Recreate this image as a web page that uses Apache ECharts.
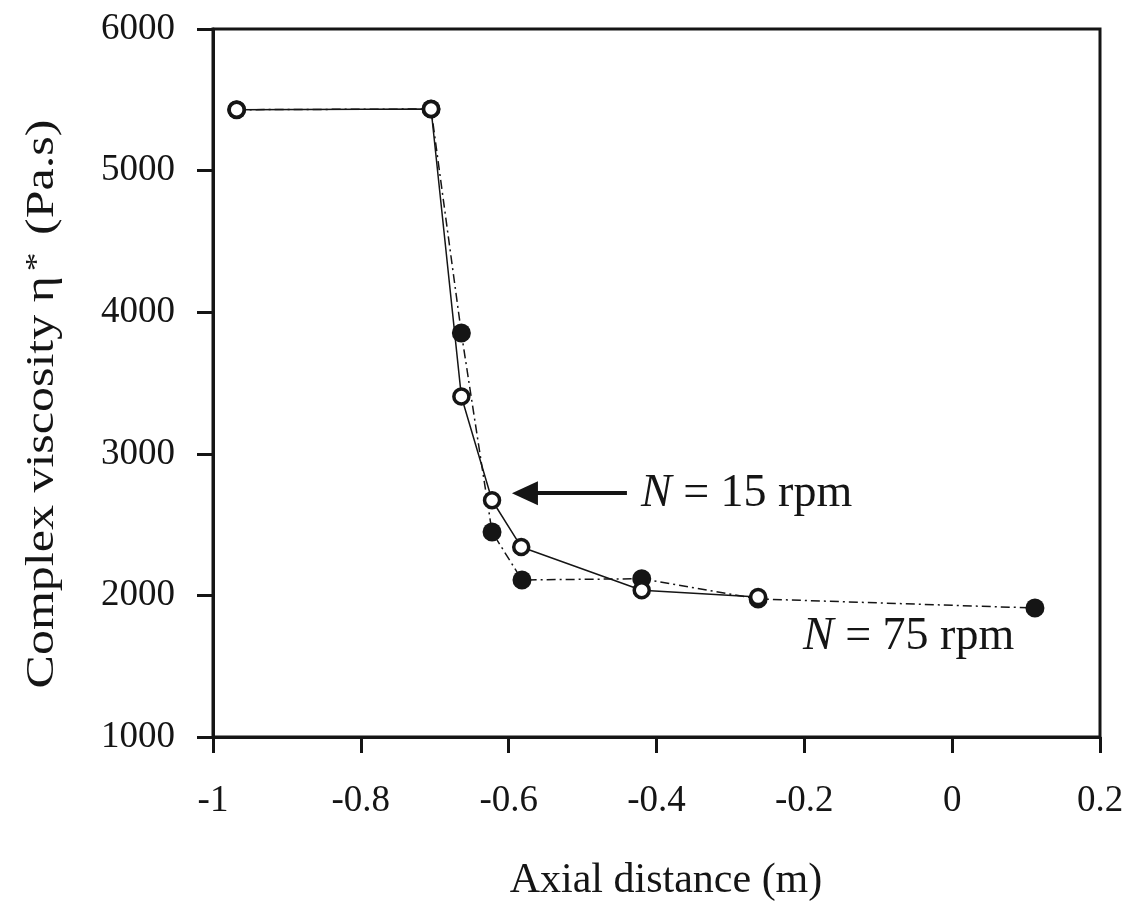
<!DOCTYPE html>
<html>
<head>
<meta charset="utf-8">
<title>Complex viscosity vs axial distance</title>
<script src="https://cdn.jsdelivr.net/npm/echarts@6/dist/echarts.min.js"></script>
<style>
  html, body { margin: 0; padding: 0; background: #ffffff; }
  #chart { width: 1140px; height: 903px; }
</style>
</head>
<body>
<div id="chart"></div>
<script>
// Axial position (m) and complex viscosity (Pa.s) along the extruder
const axial15 = [-0.968, -0.705, -0.664, -0.6225, -0.583, -0.42, -0.2625];
const visc15  = [5430, 5435, 3405, 2672, 2342, 2036, 1988];

const axial75 = [-0.968, -0.705, -0.664, -0.6225, -0.582, -0.42, -0.2625, 0.112];
const visc75  = [5430, 5435, 3853, 2448, 2109, 2118, 1975, 1911];

const xTicks = { min: -1, max: 0.2, step: 0.2 };
const yTicks = { min: 1000, max: 6000, step: 1000 };

const label15 = ['N', ' = 15 rpm'];
const label75 = ['N', ' = 75 rpm'];

const FONT = '"Liberation Serif", "Times New Roman", serif';
const INK = '#151515';

const pair = (xs, ys) => xs.map((x, i) => [x, ys[i]]);

const chart = echarts.init(document.getElementById('chart'), null, { renderer: 'canvas' });

chart.setOption({
  backgroundColor: '#ffffff',
  animation: false,
  grid: {
    left: 213, top: 29, width: 887, height: 708,
    show: true, borderColor: INK, borderWidth: 3, backgroundColor: 'transparent'
  },
  xAxis: {
    type: 'value',
    min: xTicks.min, max: xTicks.max, interval: xTicks.step,
    axisLine: { onZero: false, lineStyle: { color: INK, width: 3 } },
    axisTick: { show: true, inside: false, length: 16, lineStyle: { color: INK, width: 3 } },
    axisLabel: {
      margin: 46, color: INK, fontFamily: FONT, fontSize: 37,
      formatter: v => String(+v.toFixed(1))
    },
    splitLine: { show: false }
  },
  yAxis: {
    type: 'value',
    min: yTicks.min, max: yTicks.max, interval: yTicks.step,
    axisLine: { onZero: false, lineStyle: { color: INK, width: 3 } },
    axisTick: { show: true, inside: false, length: 16, lineStyle: { color: INK, width: 3 } },
    axisLabel: {
      margin: 38, color: INK, fontFamily: FONT, fontSize: 37,
      formatter: v => String(Math.round(v))
    },
    splitLine: { show: false }
  },
  series: [
    {
      name: 'N = 75 rpm',
      type: 'line',
      data: pair(axial75, visc75),
      symbol: 'circle',
      symbolSize: 19,
      itemStyle: { color: INK, borderColor: INK, borderWidth: 0 },
      lineStyle: { color: INK, width: 1.5, type: [9, 4, 2, 4] },
      z: 2
    },
    {
      name: 'N = 15 rpm',
      type: 'line',
      data: pair(axial15, visc15),
      symbol: 'circle',
      symbolSize: 15,
      itemStyle: { color: '#ffffff', borderColor: INK, borderWidth: 3.5 },
      lineStyle: { color: INK, width: 1.5 },
      z: 3,
      // arrow pointing at the 15 rpm curve
      markLine: {
        silent: true,
        symbol: ['none', 'triangle'],
        symbolSize: [24, 26],
        label: { show: false },
        lineStyle: { color: INK, width: 4, type: 'solid' },
        data: [[
          { coord: [-0.44, 2722] },
          { coord: [-0.578, 2722] }
        ]]
      }
    }
  ],
  graphic: [
    {
      type: 'text', x: 641, y: 494,
      style: {
        text: '{i|' + label15[0] + '}{r|' + label15[1] + '}',
        textVerticalAlign: 'middle',
        rich: {
          i: { fontFamily: FONT, fontSize: 46, fontStyle: 'italic', fill: INK },
          r: { fontFamily: FONT, fontSize: 46, fill: INK }
        }
      }
    },
    {
      type: 'text', x: 803, y: 637,
      style: {
        text: '{i|' + label75[0] + '}{r|' + label75[1] + '}',
        textVerticalAlign: 'middle',
        rich: {
          i: { fontFamily: FONT, fontSize: 46, fontStyle: 'italic', fill: INK },
          r: { fontFamily: FONT, fontSize: 46, fill: INK }
        }
      }
    },
    {
      type: 'text', x: 666, y: 881,
      style: {
        text: 'Axial distance (m)',
        textAlign: 'center', textVerticalAlign: 'middle',
        font: '42px ' + FONT, fill: INK
      }
    },
    {
      type: 'text', x: 42, y: 404, rotation: Math.PI / 2, scaleX: 1.25,
      style: {
        text: '{a|Complex viscosity η}{s|*}{a| (Pa.s)}',
        textAlign: 'center', textVerticalAlign: 'middle',
        rich: {
          a: { fontFamily: FONT, fontSize: 40, fill: INK, verticalAlign: 'bottom' },
          s: { fontFamily: FONT, fontSize: 30, fill: INK, verticalAlign: 'top', padding: [0, 4, 0, 4] }
        }
      }
    }
  ]
});
</script>
</body>
</html>
